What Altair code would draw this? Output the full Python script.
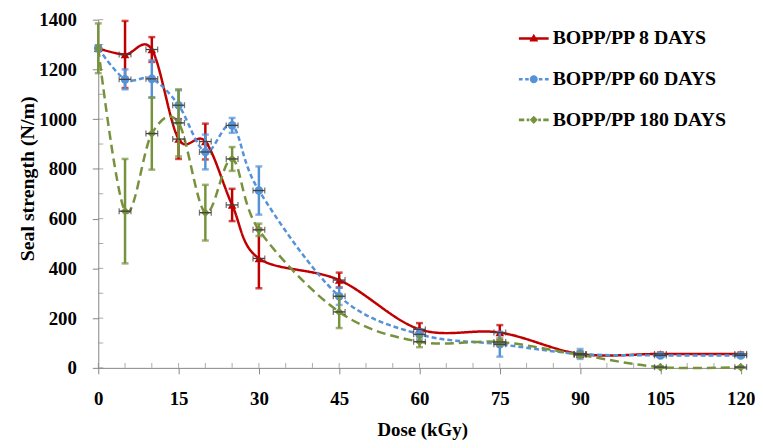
import altair as alt
import pandas as pd

# ---------------- data ----------------
names = ["BOPP/PP 8 DAYS", "BOPP/PP 60 DAYS", "BOPP/PP 180 DAYS"]
colors = ["#C00000", "#5592D8", "#76923C"]
markers = ["triangle-up", "circle", "diamond"]
dashes = [[1, 0], [5, 3], [9, 5]]

dose = [0, 5, 10, 15, 20, 25, 30, 45, 60, 75, 90, 105, 120]
dose_err = [0, 1.1, 1.1, 1.1, 1.1, 1.1, 1.1, 1.1, 1.1, 1.1, 1.1, 1.1, 1.1]

seal_8 = [1285, 1260, 1280, 920, 910, 655, 440, 353, 155, 142, 56, 56, 56]
err_8 = [10, 135, 50, 80, 72, 65, 120, 30, 25, 30, 10, 6, 6]

seal_60 = [1285, 1160, 1162, 1056, 868, 975, 713, 288, 135, 95, 56, 50, 50]
err_60 = [12, 40, 75, 60, 70, 30, 97, 35, 20, 50, 20, 6, 6]

seal_180 = [1285, 630, 942, 985, 624, 840, 555, 225, 105, 104, 52, 3, 3]
err_180 = [100, 210, 145, 135, 112, 48, 25, 65, 22, 15, 10, 3, 3]

x_ticks = [0, 15, 30, 45, 60, 75, 90, 105, 120]
y_ticks = [0, 200, 400, 600, 800, 1000, 1200, 1400]
x_minor = list(range(0, 125, 5))
y_minor = list(range(0, 1500, 100))


# ---------------- legend symbols (line + marker as filled SVG paths) ----------------
def seg(a, b, h=0.085):
    return f"M{a},{-h}L{b},{-h}L{b},{h}L{a},{h}Z"


solid = seg(-1, 1)
dashed_a = seg(-1, -0.75) + seg(-0.58, -0.34) + seg(0.34, 0.58) + seg(0.75, 1)
dashed_b = seg(-1, -0.64) + seg(-0.48, -0.3) + seg(0.3, 0.48) + seg(0.64, 1)
legend_paths = [
    solid + "M0,-0.32L0.3,0.2L-0.3,0.2Z",
    dashed_a + "M0.27,0A0.27,0.27,0,1,1,-0.27,0A0.27,0.27,0,1,1,0.27,0Z",
    dashed_b + "M0,-0.27L0.27,0L0,0.27L-0.27,0Z",
]

# ---------------- tables ----------------
rows = []
for name, vals, errs in zip(names, [seal_8, seal_60, seal_180], [err_8, err_60, err_180]):
    for d, v, e, xe in zip(dose, vals, errs, dose_err):
        rows.append({"series": name, "dose": d, "value": v,
                     "lo": v - e, "hi": v + e,
                     "xerr": xe, "xlo": d - xe, "xhi": d + xe})
df = pd.DataFrame(rows)

gray = "#868686"
font = "Liberation Serif"

xs = alt.Scale(domain=[0, 121], nice=False, zero=False)
ys = alt.Scale(domain=[0, 1400], nice=False)
xaxis = alt.Axis(values=x_ticks, format="d", title="Dose (kGy)", grid=False, labelFlush=False,
                 tickSize=6, labelPadding=16, titlePadding=12, titleFontSize=19)
yaxis = alt.Axis(values=y_ticks, format="d", title="Seal strength (N/m)", grid=False,
                 labelFlush=False, tickSize=6, labelPadding=16, titlePadding=1,
                 titleFontSize=20, titleY=160)


def X(f):
    return alt.X(f, type="quantitative", scale=xs, axis=xaxis)


def Y(f):
    return alt.Y(f, type="quantitative", scale=ys, axis=yaxis)


leg = alt.Legend(
    title=None, orient="none", legendX=424, legendY=4, padding=0,
    symbolSize=900, symbolStrokeWidth=0, symbolOpacity=1,
    labelFont=font, labelFontWeight="bold", labelFontSize=20,
    labelColor="black", labelOffset=4, rowPadding=16, labelLimit=300,
)

base = alt.Chart(df)

minor_x = alt.Chart(pd.DataFrame({"t": x_minor})).mark_tick(
    orient="vertical", size=5, thickness=1, color=gray, yOffset=-2.5
).encode(x=X("t"), y=alt.YDatum(0, type="quantitative", scale=ys, axis=yaxis))

minor_y = alt.Chart(pd.DataFrame({"t": y_minor})).mark_tick(
    orient="horizontal", size=5, thickness=1, color=gray, xOffset=2.5
).encode(y=Y("t"), x=alt.XDatum(0, type="quantitative", scale=xs, axis=xaxis))

layers = [minor_x, minor_y]
for name, c, dsh in zip(names, colors, dashes):
    sb = base.transform_filter(alt.datum.series == name)
    layers.append(sb.mark_line(interpolate="cardinal", strokeWidth=2.5, color=c,
                               strokeDash=dsh).encode(x=X("dose"), y=Y("value")))

for name, c, mk in zip(names, colors, markers):
    sb = base.transform_filter(alt.datum.series == name)
    layers.append(sb.mark_rule(strokeWidth=2.5, color=c).encode(
        x=X("dose"), y=Y("lo"), y2="hi"))
    layers.append(sb.mark_tick(orient="horizontal", size=7, thickness=2.5, color=c).encode(
        x=X("dose"), y=Y("lo")))
    layers.append(sb.mark_tick(orient="horizontal", size=7, thickness=2.5, color=c).encode(
        x=X("dose"), y=Y("hi")))
    layers.append(sb.mark_point(filled=True, size=75, opacity=1, shape=mk, color=c).encode(
        x=X("dose"), y=Y("value")))

xbase = base.transform_filter("datum.xerr > 0")
layers.append(xbase.mark_rule(strokeWidth=1.3, color="#404040").encode(
    x=X("xlo"), x2="xhi", y=Y("value")))
layers.append(xbase.mark_tick(orient="vertical", size=6, thickness=1.3, color="#404040").encode(
    x=X("xlo"), y=Y("value")))
layers.append(xbase.mark_tick(orient="vertical", size=6, thickness=1.3, color="#404040").encode(
    x=X("xhi"), y=Y("value")))

# invisible layer that only carries the legend (line + marker symbols)
layers.append(base.transform_filter("datum.dose == 0").mark_point(filled=True, opacity=0).encode(
    x=X("dose"), y=Y("value"),
    color=alt.Color("series:N", scale=alt.Scale(domain=names, range=colors), legend=leg),
    shape=alt.Shape("series:N", scale=alt.Scale(domain=names, range=legend_paths), legend=leg),
))

chart = alt.layer(*layers).properties(
    width=653, height=351,
    autosize=alt.AutoSizeParams(type="none"),
    padding={"left": 91, "top": 10, "right": 9, "bottom": 78},
    background="white",
).configure_view(stroke=None).configure_axis(
    labelFont=font, labelFontWeight="bold", labelFontSize=19, labelColor="black",
    titleFont=font, titleFontWeight="bold", titleColor="black",
    domainColor=gray, tickColor=gray, domainWidth=1,
)

chart.save("out.html", embed_options={"renderer": "svg", "actions": False})
